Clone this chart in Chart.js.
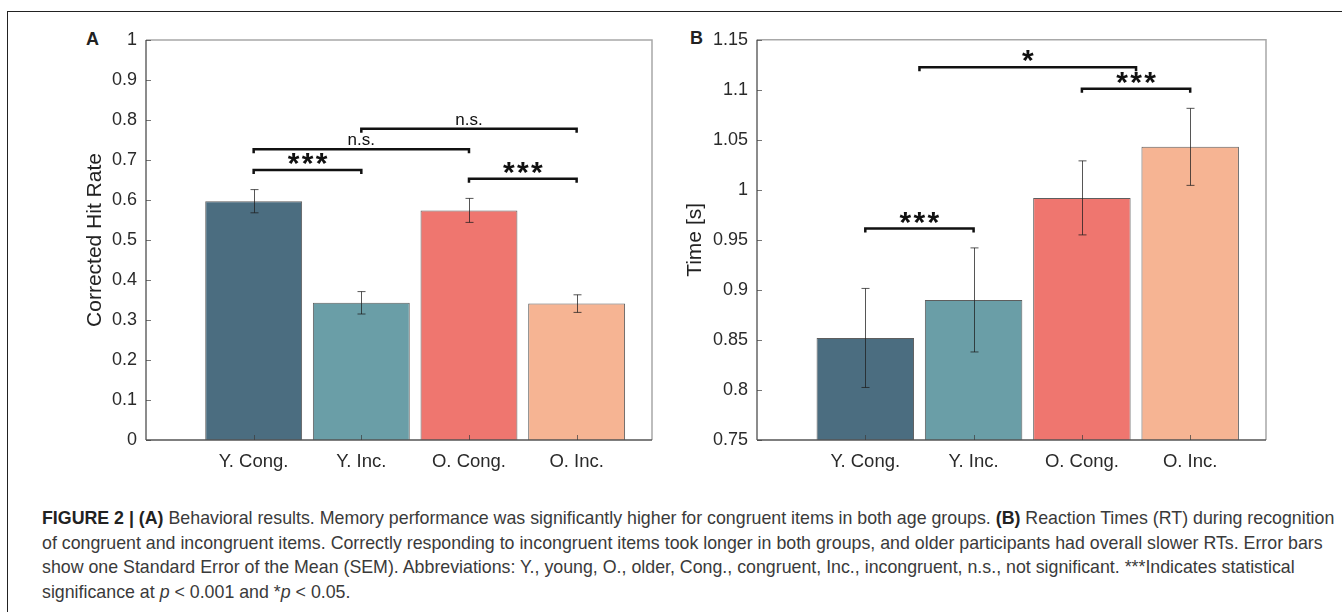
<!DOCTYPE html>
<html>
<head>
<meta charset="utf-8">
<script src="https://cdn.jsdelivr.net/npm/chart.js@4.4.1/dist/chart.umd.min.js"></script>
<style>
  html, body { margin: 0; padding: 0; background: #fff; }
  body { width: 1342px; height: 612px; position: relative; overflow: hidden;
         font-family: "Liberation Sans", Arial, Helvetica, sans-serif; }
  #frame { position: absolute; left: 7px; top: 11px; right: 0; bottom: -2px;
           border-top: 1px solid #222; border-left: 1px solid #222; }
  .panel { position: absolute; }
  .letter { position: absolute; font-weight: bold; font-size: 18px; color: #222; }
  #caption { position: absolute; left: 42px; top: 506px; font-size: 17.8px;
             line-height: 24.5px; color: #3a3a3a; white-space: nowrap; }
  #caption b { color: #222; }
</style>
</head>
<body>
<div id="frame"></div>
<div class="letter" style="left:86px; top:29px;">A</div>
<div class="letter" style="left:690px; top:28px;">B</div>
<canvas id="chartA" class="panel" width="610" height="460" style="left:60px; top:20px;"></canvas>
<canvas id="chartB" class="panel" width="630" height="460" style="left:660px; top:20px;"></canvas>
<div id="caption">
  <div><b>FIGURE 2 | (A)</b> Behavioral results. Memory performance was significantly higher for congruent items in both age groups. <b>(B)</b> Reaction Times (RT) during recognition</div>
  <div>of congruent and incongruent items. Correctly responding to incongruent items took longer in both groups, and older participants had overall slower RTs. Error bars</div>
  <div>show one Standard Error of the Mean (SEM). Abbreviations: Y., young, O., older, Cong., congruent, Inc., incongruent, n.s., not significant. ***Indicates statistical</div>
  <div>significance at <i>p</i> &lt; 0.001 and *<i>p</i> &lt; 0.05.</div>
</div>

<script>
// conditions
const categories = ["Y. Cong.", "Y. Inc.", "O. Cong.", "O. Inc."];
const barColors = ["#4b6d80", "#6a9ea7", "#ef766f", "#f6b493"];

// panel A: corrected hit rate
const hitRate = [0.597, 0.343, 0.574, 0.341];
const hitRateSem = [0.029, 0.028, 0.030, 0.022];
const hitRateTicks = [0, 0.1, 0.2, 0.3, 0.4, 0.5, 0.6, 0.7, 0.8, 0.9, 1];
const sigA = [
  { from: 1, to: 2, y: 0.675, label: "***" },
  { from: 1, to: 3, y: 0.727, label: "n.s." },
  { from: 2, to: 4, y: 0.778, label: "n.s." },
  { from: 3, to: 4, y: 0.653, label: "***" }
];

// panel B: reaction time [s]
const rt = [0.852, 0.890, 0.992, 1.043];
const rtSem = [0.0495, 0.052, 0.037, 0.0385];
const rtTicks = [0.75, 0.8, 0.85, 0.9, 0.95, 1, 1.05, 1.1, 1.15];
const sigB = [
  { from: 1.5, to: 3.5, y: 1.1225, label: "*" },
  { from: 3, to: 4, y: 1.101, label: "***" },
  { from: 1, to: 2, y: 0.9613, label: "***" }
];

const FONT = "'Liberation Sans', Arial, Helvetica, sans-serif";

// error bars, significance brackets, axis box with inward ticks
const extrasPlugin = {
  id: "extras",
  afterDatasetsDraw(chart, args, opts) {
    const ctx = chart.ctx;
    const xs = chart.scales.x, ys = chart.scales.y;
    const area = chart.chartArea;
    const meta = chart.getDatasetMeta(0);
    const values = chart.data.datasets[0].data;

    ctx.save();
    // error bars
    ctx.strokeStyle = "rgba(30,30,30,0.75)";
    ctx.lineWidth = 1;
    meta.data.forEach((bar, i) => {
      const v = values[i].y, e = opts.sem[i];
      const x = Math.round(bar.x) + 0.5;
      const yl = ys.getPixelForValue(v - e), yh = ys.getPixelForValue(v + e);
      ctx.beginPath();
      ctx.moveTo(x, yl); ctx.lineTo(x, yh);
      ctx.moveTo(x - 4, yl); ctx.lineTo(x + 4, yl);
      ctx.moveTo(x - 4, yh); ctx.lineTo(x + 4, yh);
      ctx.stroke();
    });

    // axis box
    ctx.lineWidth = 1.5;
    ctx.strokeStyle = "#a8a8a8";
    ctx.beginPath();
    ctx.moveTo(area.left, area.top); ctx.lineTo(area.right, area.top);
    ctx.lineTo(area.right, area.bottom);
    ctx.stroke();
    ctx.strokeStyle = "#666";
    ctx.beginPath();
    ctx.moveTo(area.left, area.top); ctx.lineTo(area.left, area.bottom);
    ctx.stroke();
    ctx.strokeStyle = "#555";
    ctx.beginPath();
    ctx.moveTo(area.left, area.bottom); ctx.lineTo(area.right, area.bottom);
    ctx.stroke();

    // inward ticks
    ctx.lineWidth = 1;
    ctx.strokeStyle = "rgba(60,60,60,0.7)";
    ctx.beginPath();
    ys.ticks.forEach(t => {
      const y = Math.round(ys.getPixelForValue(t.value)) + 0.5;
      ctx.moveTo(area.left, y); ctx.lineTo(area.left + 5, y);
    });
    xs.ticks.forEach(t => {
      const x = Math.round(xs.getPixelForValue(t.value)) + 0.5;
      ctx.moveTo(x, area.bottom); ctx.lineTo(x, area.bottom - 5);
    });
    ctx.stroke();

    // significance brackets
    ctx.strokeStyle = "#111";
    ctx.fillStyle = "#111";
    ctx.lineWidth = 2.5;
    ctx.textAlign = "center";
    ctx.textBaseline = "alphabetic";
    opts.sig.forEach(s => {
      const x1 = xs.getPixelForValue(s.from), x2 = xs.getPixelForValue(s.to);
      const y = ys.getPixelForValue(s.y);
      const xm = (x1 + x2) / 2;
      ctx.beginPath();
      ctx.moveTo(x1, y + 4); ctx.lineTo(x1, y); ctx.lineTo(x2, y); ctx.lineTo(x2, y + 4);
      ctx.stroke();
      if (s.label === "n.s.") {
        ctx.font = "17px " + FONT;
        ctx.fillText(s.label, xm, y - 4);
      } else {
        // asterisks, drawn one by one with a little air between them
        ctx.font = "bold 30px " + FONT;
        const n = s.label.length, step = 14;
        for (let k = 0; k < n; k++) {
          ctx.fillText("*", xm + (k - (n - 1) / 2) * step, y + 3);
        }
      }
    });
    ctx.restore();
  }
};

function makeChart(id, values, sem, ticks, yTitle, sig, yWidth, pad) {
  const tickLabel = v => String(+Number(v).toFixed(2));
  return new Chart(document.getElementById(id), {
    type: "bar",
    data: {
      datasets: [{
        data: categories.map((c, i) => ({ x: i + 1, y: values[i] })),
        backgroundColor: barColors,
        borderColor: "rgba(40,40,40,0.75)",
        borderWidth: 1,
        barPercentage: 0.9,
        categoryPercentage: 1.0
      }]
    },
    options: {
      responsive: false,
      animation: false,
      devicePixelRatio: 1,
      layout: { padding: pad },
      plugins: {
        legend: { display: false },
        tooltip: { enabled: false },
        extras: { sem: sem, sig: sig }
      },
      scales: {
        x: {
          type: "linear",
          min: 0,
          max: 4.7,
          offset: false,
          grid: { display: false, offset: false, drawTicks: false },
          border: { display: false },
          afterBuildTicks: s => { s.ticks = categories.map((c, i) => ({ value: i + 1 })); },
          afterFit: s => { s.height = 40; },
          ticks: {
            padding: 11,
            color: "#2a2a2a",
            font: { family: FONT, size: 18.5 },
            maxRotation: 0,
            callback: v => categories[v - 1]
          }
        },
        y: {
          min: ticks[0],
          max: ticks[ticks.length - 1],
          grid: { display: false, drawTicks: false },
          border: { display: false },
          afterBuildTicks: s => { s.ticks = ticks.map(v => ({ value: v })); },
          afterFit: s => { s.width = yWidth; },
          ticks: {
            padding: 9,
            color: "#2a2a2a",
            font: { family: FONT, size: 18 },
            callback: tickLabel
          },
          title: {
            display: true,
            text: yTitle,
            color: "#222",
            font: { family: FONT, size: 21 },
            padding: { top: 23, bottom: 0 }
          }
        }
      }
    },
    plugins: [extrasPlugin]
  });
}

makeChart("chartA", hitRate, hitRateSem, hitRateTicks, "Corrected Hit Rate", sigA, 86,
  { left: 0, top: 20, right: 18, bottom: 0 });
makeChart("chartB", rt, rtSem, rtTicks, "Time [s]", sigB, 97,
  { left: 0, top: 18, right: 24, bottom: 0 });
</script>
</body>
</html>
